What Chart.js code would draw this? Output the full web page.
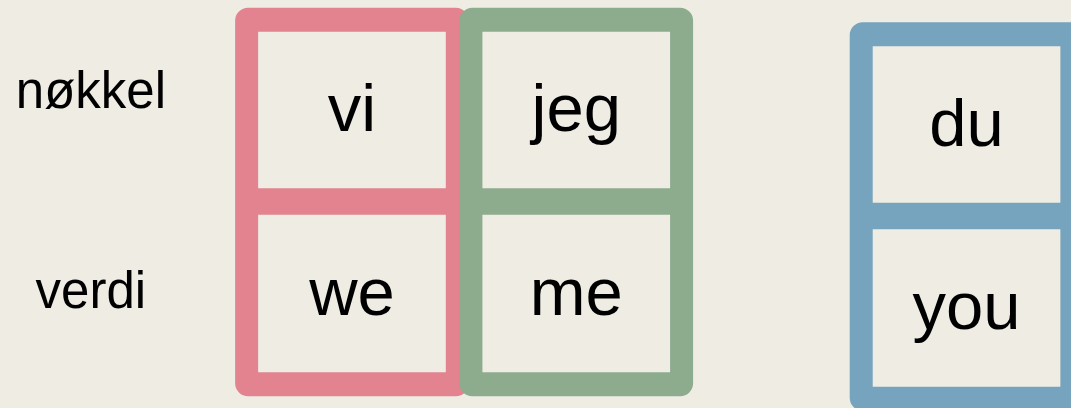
<!DOCTYPE html>
<html>
<head>
<meta charset="utf-8">
<script src="https://cdn.jsdelivr.net/npm/chart.js@4"></script>
<style>
  html, body { margin: 0; padding: 0; background: #efece4; }
  #wrap { width: 1071px; height: 408px; }
</style>
</head>
<body>
<div id="wrap"><canvas id="pairs"></canvas></div>
<script>
const keys = ['vi', 'jeg', 'du'];
const values = ['we', 'me', 'you'];
const rowLabels = ['nøkkel', 'verdi'];
const groupOf = [0, 0, 1];

const boxColors = ['#e2838f', '#8dab8d', '#76a3bd'];
const paper = '#efece4';

// layout in scale units: x = one box per unit, y = pixels from the top
const groupGap = 0.74;
const groupDrop = 14.5;
const frameRows = [8, 396];
const keyRows = [32, 188];
const valueRows = [215, 372];
const labelRows = [94, 294];

const slotX = keys.map((k, i) => i + groupOf[i] * groupGap);
const span = (rows, i) => ({
  x: slotX[i],
  y: [rows[0] + groupOf[i] * groupDrop, rows[1] + groupOf[i] * groupDrop]
});

const cellText = {
  id: 'cellText',
  afterDatasetsDraw(chart) {
    const ctx = chart.ctx;
    chart.data.datasets.forEach((ds, di) => {
      if (!ds.texts) return;
      chart.getDatasetMeta(di).data.forEach((bar, i) => {
        ctx.save();
        ctx.font = '67px "Liberation Sans", Arial, sans-serif';
        ctx.fillStyle = '#000';
        ctx.textAlign = 'center';
        ctx.textBaseline = 'middle';
        ctx.fillText(ds.texts[i], bar.x, (bar.y + bar.base) / 2 + 3);
        ctx.restore();
      });
    });
  }
};

new Chart(document.getElementById('pairs'), {
  type: 'bar',
  data: {
    datasets: [
      {
        label: rowLabels[0],
        data: keys.map((k, i) => span(keyRows, i)),
        texts: keys,
        backgroundColor: paper,
        barThickness: 187,
        grouped: false,
        order: 1
      },
      {
        label: rowLabels[1],
        data: values.map((v, i) => span(valueRows, i)),
        texts: values,
        backgroundColor: paper,
        barThickness: 187,
        grouped: false,
        order: 1
      },
      {
        label: 'ramme',
        data: keys.map((k, i) => span(frameRows, i)),
        backgroundColor: boxColors,
        barThickness: 233,
        borderRadius: 13,
        borderSkipped: false,
        grouped: false,
        order: 2
      }
    ]
  },
  options: {
    responsive: true,
    maintainAspectRatio: false,
    animation: false,
    events: [],
    layout: { padding: 0, autoPadding: false },
    plugins: {
      legend: { display: false },
      tooltip: { enabled: false }
    },
    scales: {
      x: {
        type: 'linear',
        display: false,
        offset: false,
        grid: { offset: false },
        min: -0.838,
        max: 3.2057
      },
      y: {
        type: 'linear',
        reverse: true,
        min: 0,
        max: 408,
        afterFit: s => {
          s.width = 164;
          s.paddingTop = 0;
          s.paddingBottom = 0;
        },
        afterBuildTicks: s => { s.ticks = labelRows.map(v => ({ value: v })); },
        grid: { display: false, drawTicks: false },
        border: { display: false },
        ticks: {
          autoSkip: false,
          padding: -2,
          crossAlign: 'center',
          color: '#000',
          font: { family: '"Liberation Sans", Arial, sans-serif', size: 51 },
          callback: (v, i) => rowLabels[i]
        }
      }
    }
  },
  plugins: [cellText]
});
</script>
</body>
</html>
